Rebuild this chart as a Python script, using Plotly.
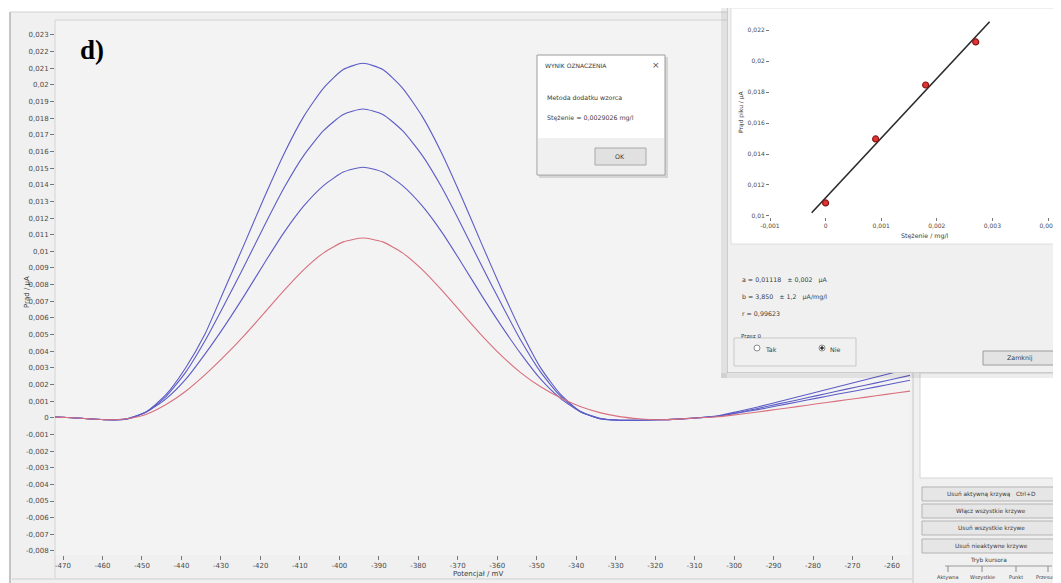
import numpy as np
import plotly.graph_objects as go

# page is shown with the browser's default 8px body margin, so the figure
# is sized to end exactly at the window edge and page pixels are mapped below
PAGE_W, PAGE_H = 1061, 583
OFF = 8
W, H = PAGE_W - OFF, PAGE_H - OFF

# ---------------- main voltammogram data ----------------
potential_mV = [-474, -469, -464, -459, -454, -449, -444, -439, -434, -429, -424, -419,
                -414, -409, -404, -399, -394, -389, -384, -379, -374, -369, -364, -359,
                -354, -349, -344, -339, -334, -329, -324, -319, -314, -309, -304, -299,
                -294, -289, -284, -279, -274, -269, -264, -259, -254]

sample_red = [0.00005, 0.00002, -0.00005, -0.00012, -0.00006, 0.00020, 0.00078, 0.00158,
              0.00259, 0.00373, 0.00497, 0.00630, 0.00765, 0.00890, 0.00991, 0.01057,
              0.01080, 0.01057, 0.00991, 0.00890, 0.00765, 0.00630, 0.00497, 0.00375,
              0.00270, 0.00186, 0.00120, 0.00068, 0.00031, 0.00007, -0.00006, -0.00012,
              -0.00008, 0.00000, 0.00006, 0.00020, 0.00035, 0.00051, 0.00067, 0.00084,
              0.00100, 0.00116, 0.00132, 0.00149, 0.00165]

addition_1 = [0.00005, 0.00002, -0.00005, -0.00012, -0.00006, 0.00033, 0.00112, 0.00229,
              0.00384, 0.00554, 0.00737, 0.00929, 0.01114, 0.01273, 0.01395, 0.01476,
              0.01505, 0.01476, 0.01395, 0.01273, 0.01114, 0.00929, 0.00737, 0.00554,
              0.00384, 0.00232, 0.00117, 0.00037, -0.00003, -0.00015, -0.00015, -0.00012,
              -0.00008, 0.00000, 0.00009, 0.00029, 0.00049, 0.00072, 0.00095, 0.00118,
              0.00141, 0.00163, 0.00186, 0.00209, 0.00232]

addition_2 = [0.00005, 0.00002, -0.00005, -0.00012, -0.00008, 0.00034, 0.00126, 0.00271,
              0.00464, 0.00686, 0.00916, 0.01154, 0.01382, 0.01577, 0.01725, 0.01822,
              0.01855, 0.01822, 0.01725, 0.01577, 0.01382, 0.01154, 0.00916, 0.00686,
              0.00464, 0.00274, 0.00131, 0.00038, -0.00005, -0.00015, -0.00015, -0.00012,
              -0.00008, 0.00000, 0.00010, 0.00032, 0.00056, 0.00082, 0.00107, 0.00133,
              0.00159, 0.00185, 0.00210, 0.00236, 0.00262]

addition_3 = [0.00005, 0.00002, -0.00005, -0.00012, -0.00009, 0.00035, 0.00137, 0.00298,
              0.00505, 0.00777, 0.01048, 0.01325, 0.01587, 0.01811, 0.01981, 0.02092,
              0.02130, 0.02092, 0.01981, 0.01811, 0.01587, 0.01325, 0.01048, 0.00777,
              0.00522, 0.00300, 0.00142, 0.00039, -0.00006, -0.00015, -0.00015, -0.00012,
              -0.00008, 0.00000, 0.00012, 0.00038, 0.00065, 0.00095, 0.00125, 0.00155,
              0.00185, 0.00215, 0.00245, 0.00275, 0.00305]

x_ticks = [-470, -460, -450, -440, -430, -420, -410, -400, -390, -380, -370,
           -360, -350, -340, -330, -320, -310, -300, -290, -280, -270, -260]
y_ticks = [-0.008, -0.007, -0.006, -0.005, -0.004, -0.003, -0.002, -0.001, 0.0,
           0.001, 0.002, 0.003, 0.004, 0.005, 0.006, 0.007, 0.008, 0.009, 0.010,
           0.011, 0.012, 0.013, 0.014, 0.015, 0.016, 0.017, 0.018, 0.019, 0.020,
           0.021, 0.022, 0.023]

# ---------------- standard addition inset data ----------------
added_conc = [0.0, 0.0009, 0.0018, 0.0027]
peak_current = [0.01084, 0.01497, 0.01845, 0.02123]
fit_span = [-0.00025, 0.00295]
inset_x_ticks = [-0.001, 0.0, 0.001, 0.002, 0.003, 0.004]
inset_y_ticks = [0.010, 0.012, 0.014, 0.016, 0.018, 0.020, 0.022]


def fmt(v):
    if abs(v) < 1e-12:
        return "0"
    s = f"{v:.3f}".rstrip("0").rstrip(".")
    return s.replace(".", ",")


b_fit, a_fit = np.polyfit(added_conc, peak_current, 1)
r_fit = np.corrcoef(added_conc, peak_current)[0, 1]
conc = a_fit / b_fit
fit_y = [a_fit + b_fit * v for v in fit_span]


def px(x):
    return (x - OFF) / W


def py(y):
    return 1 - (y - OFF) / H


FONT = "DejaVu Sans"
BLUE = "#5c5cc6"
RED = "#d8707e"

fig = go.Figure()
for series, col in [(addition_3, BLUE), (addition_2, BLUE), (addition_1, BLUE), (sample_red, RED)]:
    fig.add_trace(go.Scatter(x=potential_mV, y=series, mode="lines",
                             line=dict(color=col, width=1.1, shape="spline", smoothing=0.6),
                             xaxis="x", yaxis="y", showlegend=False, hoverinfo="skip"))

# placeholder trace so the dialog-panel subplot exists before the inset subplot
fig.add_trace(go.Scatter(x=[None], y=[None], mode="markers", xaxis="x2", yaxis="y2",
                         showlegend=False, hoverinfo="skip"))

fig.add_trace(go.Scatter(x=fit_span, y=fit_y, mode="lines",
                         line=dict(color="#2a2a2a", width=1.6),
                         xaxis="x3", yaxis="y3", showlegend=False, hoverinfo="skip"))
fig.add_trace(go.Scatter(x=added_conc, y=peak_current, mode="markers",
                         marker=dict(symbol="circle", size=6, color="#e03535",
                                     line=dict(color="#8a1515", width=1.2)),
                         xaxis="x3", yaxis="y3", showlegend=False, hoverinfo="skip"))

tickfont = dict(family=FONT, size=7, color="#4a4a4a")

shapes = []


def prect(x0, y0, x1, y1, fill, line=None, layer="below", width=1):
    shapes.append(dict(type="rect", xref="paper", yref="paper",
                       x0=px(x0), x1=px(x1), y0=py(y0), y1=py(y1),
                       fillcolor=fill, layer=layer,
                       line=dict(color=line or "rgba(0,0,0,0)", width=width if line else 0)))


def pline(x0, y0, x1, y1, color, layer="below", width=1):
    shapes.append(dict(type="line", xref="paper", yref="paper",
                       x0=px(x0), x1=px(x1), y0=py(y0), y1=py(y1), layer=layer,
                       line=dict(color=color, width=width)))


def drect(x0, y0, x1, y1, fill, line=None, width=1):
    shapes.append(dict(type="rect", xref="x2", yref="y2", x0=x0, x1=x1, y0=y0, y1=y1,
                       fillcolor=fill, layer="below",
                       line=dict(color=line or "rgba(0,0,0,0)", width=width if line else 0)))


def dcircle(cx, cy, r, fill, line):
    shapes.append(dict(type="circle", xref="x2", yref="y2", x0=cx - r, x1=cx + r,
                       y0=cy - r, y1=cy + r, fillcolor=fill, layer="below",
                       line=dict(color=line, width=1)))


# window background
prect(10, 12, 1061, 583, "#f0f0f0")
pline(10, 12, 10, 583, "#c4c4c4", width=2)
pline(10, 12, 1061, 12, "#d0d0d0")
# main plot area
prect(55, 20, 910, 555, "#f3f3f3")
pline(55, 20, 910, 20, "#d4d4d4")
pline(55, 20, 55, 578, "#d4d4d4")
pline(12, 579, 912, 579, "#d0d0d0")
pline(913, 373, 913, 583, "#c8c8c8")
# right side panel
prect(920, 373, 1061, 478, "#ffffff", "#d6d6d6")
for y0 in [487, 504, 521, 539]:
    prect(922, y0, 1061, y0 + 14, "#e6e6e6", "#b4b4b4")
pline(945, 566, 1052, 566, "#9a9a9a")
for xt in [948, 982, 1016, 1048]:
    pline(xt, 566, xt, 572, "#8a8a8a")

# dialog panel with regression (drawn inside panel subplot so it covers the curves)
drect(727, 0, 1061, 373, "#f0f0f0", "#a8a8a8")
drect(731, 8, 1058, 244, "#ffffff", "#dedede")
drect(734, 338, 856, 366, "rgba(0,0,0,0)", "#c9c9c9")
dcircle(757, 348, 3, "#ffffff", "#8a8a8a")
dcircle(822, 348, 3, "#ffffff", "#8a8a8a")
dcircle(822, 348, 1.3, "#303030", "#303030")
drect(983, 351, 1057, 365, "#e3e3e3", "#9c9c9c")
# shadow of the regression dialog
prect(721, 8, 727, 378, "rgba(0,0,0,0.07)", layer="above")
prect(721, 373, 1061, 378, "rgba(0,0,0,0.07)", layer="above")

# result message box
prect(539, 57, 668, 178, "rgba(0,0,0,0.12)", layer="above")
prect(537, 55, 665, 175, "#ffffff", "#9c9c9c", layer="above")
prect(538, 138, 664, 174, "#f0f0f0", layer="above")
prect(595, 148, 646, 165, "#e1e1e1", "#a8a8a8", layer="above")

ann = []


def txt(x, y, s, size=6.5, anchor="left", color="#3a3a3a", family=FONT, angle=0):
    ann.append(dict(x=px(x), y=py(y), xref="paper", yref="paper", text=s, showarrow=False,
                    xanchor=anchor, yanchor="middle", textangle=angle,
                    font=dict(family=family, size=size, color=color)))


txt(78, 50, "<b>d)</b>", size=27, family="Liberation Serif", color="#000000")
txt(27, 292, "Prąd / µA", size=7, anchor="center", angle=-90)
txt(478, 574, "Potencjał / mV", size=7, anchor="center")

txt(543, 65, "WYNIK OZNACZENIA", size=6)
txt(656, 65, "×", size=9, anchor="center", color="#555555")
txt(545, 97, "Metoda dodatku wzorca", size=6.3)
txt(545, 118, "Stężenie = " + f"{conc:.7f}".replace(".", ",") + " mg/l", size=6.3)
txt(620, 157, "OK", size=6.3, anchor="center")

txt(741, 112, "Prąd piku / µA", size=6, anchor="center", angle=-90)
txt(925, 236, "Stężenie / mg/l", size=6.3, anchor="center")
txt(740, 280, "a = " + f"{a_fit:.5f}".replace(".", ",") + "   ± 0,002   µA", size=6.3)
txt(740, 297, "b = " + f"{b_fit:.3f}".replace(".", ",") + "   ± 1,2   µA/mg/l", size=6.3)
txt(740, 313, "r = " + f"{r_fit:.5f}".replace(".", ","), size=6.3)
txt(739, 336, "Przez 0", size=5.5)
txt(763, 349, "Tak", size=6.3)
txt(828, 349, "Nie", size=6.3)
txt(1020, 358, "Zamknij", size=6.3, anchor="center")

txt(991, 494, "Usuń aktywną krzywą   Ctrl+D", size=5.8, anchor="center")
txt(991, 511, "Włącz wszystkie krzywe", size=5.8, anchor="center")
txt(991, 528, "Usuń wszystkie krzywe", size=5.8, anchor="center")
txt(991, 546, "Usuń nieaktywne krzywe", size=5.8, anchor="center")
txt(988, 560, "Tryb kursora", size=5.8, anchor="center")
for xt, lab in zip([948, 982, 1016, 1046], ["Aktywna", "Wszystkie", "Punkt", "Przesuw"]):
    txt(xt, 577, lab, size=5, anchor="center")

fig.update_layout(
    width=W, height=H,
    margin=dict(l=0, r=0, t=0, b=0),
    paper_bgcolor="#ffffff",
    plot_bgcolor="#ffffff",
    separators=",.",
    showlegend=False,
    shapes=shapes,
    annotations=ann,
    xaxis=dict(domain=[px(55), px(910)], range=[-472.03, -255.44], anchor="y",
               tickmode="array", tickvals=x_ticks, ticktext=[str(v) for v in x_ticks],
               ticks="outside", ticklen=4, tickcolor="#777777", tickfont=tickfont,
               showgrid=False, zeroline=False, showline=False, automargin=False,
               fixedrange=True),
    yaxis=dict(domain=[py(555), py(20)], range=[-0.008243, 0.023899], anchor="x",
               tickmode="array", tickvals=y_ticks, ticktext=[fmt(v) for v in y_ticks],
               ticks="outside", ticklen=4, tickcolor="#777777", tickfont=tickfont,
               showgrid=False, zeroline=False, showline=False, automargin=False,
               fixedrange=True),
    xaxis2=dict(domain=[px(727), 1.0], range=[727, PAGE_W], anchor="y2", visible=False,
                fixedrange=True),
    yaxis2=dict(domain=[py(373), 1.0], range=[373, OFF], anchor="x2", visible=False,
                fixedrange=True),
    xaxis3=dict(domain=[px(770), px(1050)], range=[-0.001, 0.004036], anchor="y3",
                tickmode="array", tickvals=inset_x_ticks,
                ticktext=[fmt(v) for v in inset_x_ticks],
                ticks="outside", ticklen=3, tickcolor="#777777",
                tickfont=dict(family=FONT, size=6, color="#4a4a4a"),
                showgrid=False, zeroline=False, showline=False, automargin=False,
                fixedrange=True),
    yaxis3=dict(domain=[py(217), py(13)], range=[0.009935, 0.023097], anchor="x3",
                tickmode="array", tickvals=inset_y_ticks,
                ticktext=[fmt(v) for v in inset_y_ticks],
                ticks="outside", ticklen=3, tickcolor="#777777",
                tickfont=dict(family=FONT, size=6, color="#4a4a4a"),
                showgrid=False, zeroline=False, showline=False, automargin=False,
                fixedrange=True),
)

fig.write_html("out.html")
